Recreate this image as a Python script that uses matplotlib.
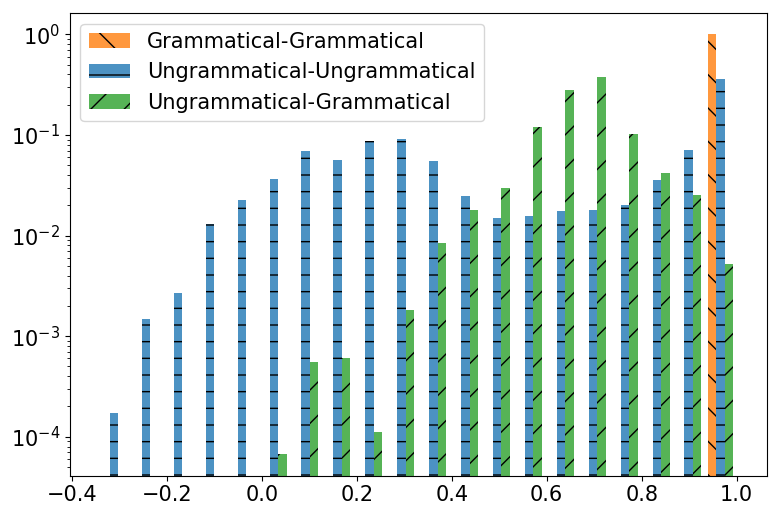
import numpy as np
import matplotlib
matplotlib.use("Agg")
import matplotlib.pyplot as plt

# fraction of pairs per similarity bin (20 bins)
bin_lo, bin_hi, n_bins = -0.345, 1.0, 20

gram_gram = [0, 0, 0, 0, 0, 0, 0, 0, 0, 0,
             0, 0, 0, 0, 0, 0, 0, 0, 0, 1.0]
ungram_ungram = [1.72e-4, 1.48e-3, 2.68e-3, 0.0130, 0.0225, 0.0365, 0.0692, 0.0564, 0.0871, 0.0908,
                 0.0551, 0.0247, 0.0149, 0.0156, 0.0175, 0.0179, 0.0201, 0.0356, 0.0708, 0.360]
ungram_gram = [0, 0, 0, 0, 0, 6.7e-5, 5.52e-4, 6.05e-4, 1.11e-4, 1.83e-3,
               8.41e-3, 0.0179, 0.0297, 0.120, 0.279, 0.376, 0.102, 0.0418, 0.0253, 5.21e-3]

labels = ["Grammatical-Grammatical", "Ungrammatical-Ungrammatical", "Ungrammatical-Grammatical"]
hatches = ["\\", "-", "/"]
colors = ["C1", "C0", "C2"]

plt.rcParams["font.size"] = 15

bins = np.linspace(bin_lo, bin_hi, n_bins + 1)
centers = (bins[:-1] + bins[1:]) / 2

fig = plt.figure(figsize=(7.8, 5.15), dpi=100)
ax = fig.add_subplot(111)
fig.subplots_adjust(left=0.0897, right=0.9833, bottom=0.0763, top=0.9742)

_, _, containers = ax.hist([centers, centers, centers], bins=bins,
                           weights=[gram_gram, ungram_ungram, ungram_gram],
                           color=colors, alpha=0.8, log=True, label=labels)
for bc, h in zip(containers, hatches):
    for p in bc:
        p.set_hatch(h)

ax.set_ylim(4.1e-5, 1.62)
ax.set_xlim(-0.4045, 1.064)
ax.legend(loc="upper left")

fig.savefig("out.png", dpi=100)
